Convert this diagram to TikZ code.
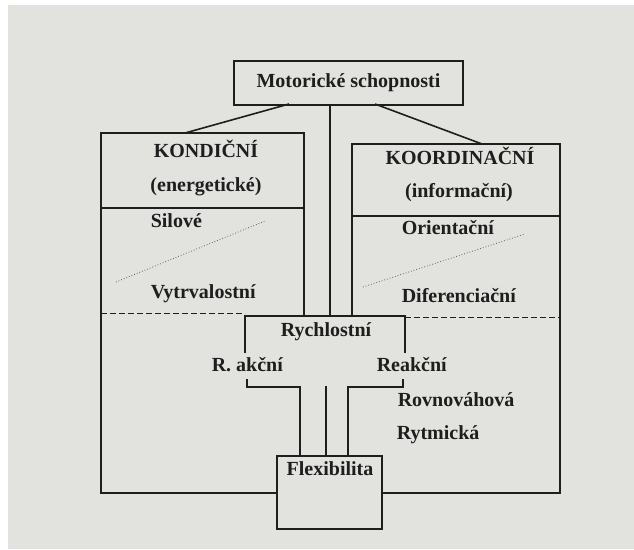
\documentclass[tikz,border=0pt]{standalone}
\usepackage{fontspec}
\setmainfont{Liberation Serif}
\definecolor{paper}{RGB}{226,227,222}
\definecolor{ink}{RGB}{30,30,30}
\begin{document}
\begin{tikzpicture}[x=1pt,y=-1pt,
  line width=1.6pt, draw=ink,
  lbl/.style={font=\fontsize{20}{24}\selectfont\bfseries, inner sep=0pt, text=ink},
  boxnode/.style={draw=ink, line width=1.6pt, rectangle, inner sep=0pt},
  frame/.style={draw=ink, line width=1.6pt},
  sep/.style={draw=ink, line width=0.9pt, dash pattern=on 6pt off 3pt},
  hint/.style={draw=ink!70, line width=0.8pt, dotted}]
\useasboundingbox (0,0) rectangle (634,549);
\fill[white] (0,0) rectangle (634,549);
\fill[paper] (8,5) rectangle (634,549);

% top box
\node[boxnode, minimum width=229pt, minimum height=44pt, lbl] (top) at (348.5,83) {Motorické schopnosti};
% flexibility box
\node[boxnode, minimum width=105pt, minimum height=73pt] (flex) at (329.5,492.5) {};
\node[lbl, anchor=base] (flext) at (330,475) {Flexibilita};

% corners of the two big boxes
\coordinate (lt) at (101,133);  \coordinate (lr) at (304,133);
\coordinate (rt) at (352,144);  \coordinate (rr) at (560,144);
\coordinate (lb) at (101,493);  \coordinate (rb) at (560,493);

% connectors from the top box
\coordinate (tl) at (289,104); \coordinate (tr) at (375,104); \coordinate (tc) at (330,104);
\coordinate (klt) at (185,133); \coordinate (krt) at (482,144);
\draw[frame] (tl) -- (klt);
\draw[frame] (tr) -- (krt);
\draw[frame] (tc) -- (330,316);

% left box (KONDIČNÍ)
\draw[frame] (304,316) -- (lr) -- (lt) -- (lb) -- (flex.west |- lb);
\draw[frame] (101,208) -- (304,208);
% right box (KOORDINAČNÍ)
\draw[frame] (352,316) -- (rt) -- (rr) -- (rb) -- (flex.east |- rb);
\draw[frame] (352,216) -- (560,216);

% dashed separators
\draw[sep] (101,313) -- (245,313);
\draw[sep] (405,317) -- (560,317);

% dotted hints
\draw[hint] (116,282) -- (265,221);
\draw[hint] (363,287) -- (525,234);

% Rychlostní bracket
\draw[frame] (245,353) -- (245,316) -- (405,316) -- (405,353);

% lower brackets to Flexibilita
\draw[frame] (247,379) -- (247,387) -- (300,387) -- (300,456);
\draw[frame] (326,386) -- (326,456);
\draw[frame] (403,379) -- (403,387) -- (348,387) -- (348,456);

% labels
\node[lbl, anchor=base] (kond) at (206,157) {KONDIČNÍ};
\node[lbl, anchor=base] (ener) at (206,191) {(energetické)};
\node[lbl, anchor=base] (koor) at (460,164) {KOORDINAČNÍ};
\node[lbl, anchor=base] (info) at (459,197) {(informační)};
\node[lbl, anchor=base west] (sil) at (150,227) {Silové};
\node[lbl, anchor=base west] (vyt) at (150,298) {Vytrvalostní};
\node[lbl, anchor=base west] (ori) at (401,234) {Orientační};
\node[lbl, anchor=base west] (dif) at (401,302) {Diferenciační};
\node[lbl, anchor=base] (rych) at (326,336) {Rychlostní};
\node[lbl, anchor=base west] (rak) at (211,371) {R. akční};
\node[lbl, anchor=base west] (rea) at (376,371) {Reakční};
\node[lbl, anchor=base west] (rov) at (397,406) {Rovnováhová};
\node[lbl, anchor=base west] (ryt) at (396,439) {Rytmická};
\end{tikzpicture}
\end{document}
